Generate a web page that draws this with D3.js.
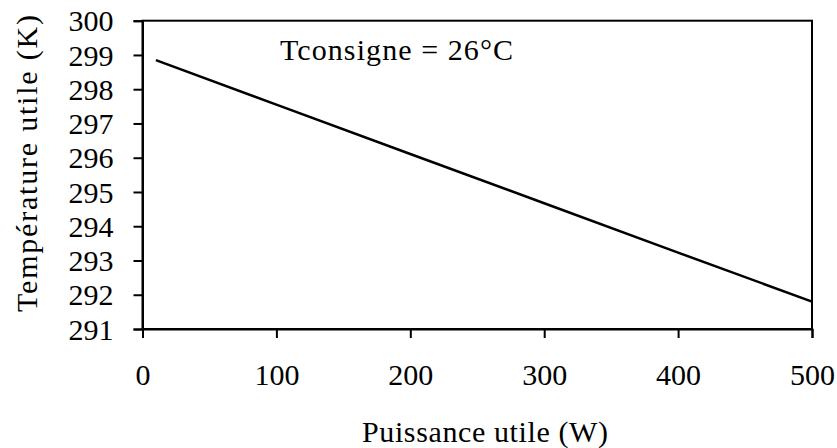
<!DOCTYPE html>
<html><head><meta charset="utf-8">
<script src="https://cdn.jsdelivr.net/npm/d3@7"></script>
<style>body{margin:0;background:#fff}</style>
</head><body>
<svg id="c" width="837" height="448"></svg>
<script>
const powerW = [10, 100, 200, 300, 400, 500];
const tempK = [298.85, 297.55, 296.11, 294.67, 293.23, 291.8];
const xTicks = [0, 100, 200, 300, 400, 500];
const yTicks = [291, 292, 293, 294, 295, 296, 297, 298, 299, 300];
const xTitle = "Puissance utile (W)";
const yTitle = "Température utile (K)";
const note = "Tconsigne = 26°C";

const FONT = "Liberation Serif";
const svg = d3.select("#c");
const m = {l:142.5, r:812, t:20.7, b:329};
const x = d3.scaleLinear().domain([0,500]).range([m.l, m.r]);
const y = d3.scaleLinear().domain([291,300]).range([m.b, m.t]);

svg.append("rect").attr("x", m.l).attr("y", m.t).attr("width", m.r-m.l).attr("height", m.b-m.t)
  .attr("fill","none").attr("stroke","#000").attr("stroke-width",2);

const gy = svg.append("g").attr("transform",`translate(${m.l},0)`)
  .call(d3.axisLeft(y).tickValues(yTicks).tickFormat(d3.format("d")).tickSize(9).tickPadding(20));
gy.attr("font-family", FONT).attr("font-size", 30);
gy.select(".domain").attr("stroke-width",2);
gy.selectAll(".tick line").attr("stroke-width",2);
gy.selectAll(".tick text").attr("fill","#000").attr("dy","0.34em");

const gx = svg.append("g").attr("transform",`translate(0,${m.b})`)
  .call(d3.axisBottom(x).tickValues(xTicks).tickSize(9).tickPadding(26));
gx.attr("font-family", FONT).attr("font-size", 30);
gx.select(".domain").attr("stroke-width",2);
gx.selectAll(".tick line").attr("stroke-width",2);
gx.selectAll(".tick text").attr("fill","#000");

svg.append("path").datum(powerW.map((p,i)=>[p,tempK[i]]))
  .attr("fill","none").attr("stroke","#000").attr("stroke-width",2.5)
  .attr("d", d3.line().x(d=>x(d[0])).y(d=>y(d[1])));

svg.append("text").attr("x",485).attr("y",442).attr("text-anchor","middle")
  .attr("font-family",FONT).attr("font-size",30).attr("textLength",246).attr("lengthAdjust","spacing").text(xTitle);
svg.append("text").attr("transform","translate(37,163.5) rotate(-90)").attr("text-anchor","middle")
  .attr("font-family",FONT).attr("font-size",30).attr("textLength",297).attr("lengthAdjust","spacing").text(yTitle);
svg.append("text").attr("x",280).attr("y",60).attr("font-family",FONT).attr("font-size",30)
  .attr("textLength",233).attr("lengthAdjust","spacing").text(note);
</script>
</body></html>
